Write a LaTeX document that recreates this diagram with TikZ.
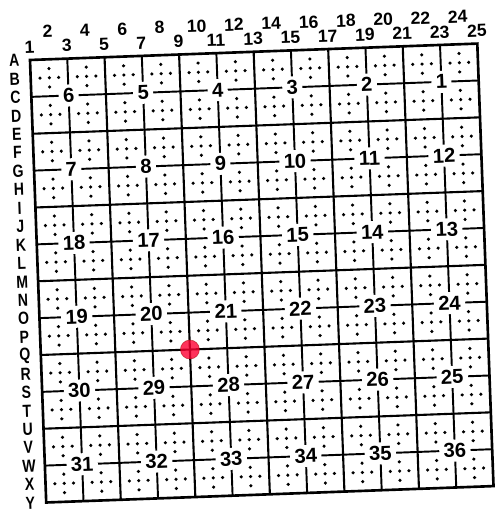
\documentclass[tikz,border=0pt]{standalone}
\usepackage{fontspec}
\setmainfont{Liberation Sans}
\tikzset{
  outerframe/.style={draw, line width=1.5pt},
  secline/.style={line width=1.2pt},
  midline/.style={line width=1.1pt},
  qdot/.style={radius=1pt},
  secnum/.style={
    fill=white,
    inner xsep=2.5pt,
    inner ysep=0pt,
    minimum height=4.4mm,
    font=\bfseries\fontsize{11.5}{11.5}\selectfont
  },
  collabel/.style={inner sep=0pt, font=\bfseries\fontsize{10}{10}\selectfont},
  rowlabel/.style={inner sep=0pt, xscale=0.8, font=\bfseries\fontsize{10}{10}\selectfont},
  reddot/.style={circle, fill=red!80!magenta, fill opacity=0.8, draw=red!60!black, draw opacity=0.5, line width=0.4pt, inner sep=0pt, minimum size=3.8mm}
}

\begin{document}
\begin{tikzpicture}
\useasboundingbox (0,0) rectangle (10.04,10.34);
\begin{scope}[shift={(0.6cm,9.14cm)}, rotate=2.1, x=0.373cm, y=-0.369cm, transform shape]
\draw[outerframe] (0,0) rectangle (24,24);
\foreach \k in {4,8,...,20} {
  \draw[secline] (\k,0) -- (\k,24);
  \draw[secline] (0,\k) -- (24,\k);
}
\foreach \k in {2,6,...,22} {
  \draw[midline] (\k,0) -- (\k,24);
  \draw[midline] (0,\k) -- (24,\k);
}
\foreach \i in {1,3,...,23}
  \foreach \j in {1,3,...,23}
    \foreach \dx/\dy in {0/0,0.5/0,-0.5/0,0/0.5,0/-0.5}
      \fill[qdot] ({\i+\dx},{\j+\dy}) circle;
\foreach \r in {0,...,5}
  \foreach \c in {0,...,5} {
    \pgfmathtruncatemacro{\secno}{mod(\r,2)==0 ? 6*\r+6-\c : 6*\r+1+\c}
    \node[secnum] (sec\secno) at ({4*\c+2},{4*\r+2}) {\secno};
  }
\foreach \n in {1,...,25} {
  \pgfmathsetmacro{\lift}{mod(\n,2)==1 ? -0.7 : -1.5}
  \node[collabel] (col\n) at ({\n-1},\lift) {\n};
}
\foreach \l [count=\k from 0] in {A,...,Y}
  \node[rowlabel] (row\l) at (-0.85,\k) {\l};
\node[reddot] (site) at (8,16) {};
\end{scope}
\end{tikzpicture}
\end{document}
